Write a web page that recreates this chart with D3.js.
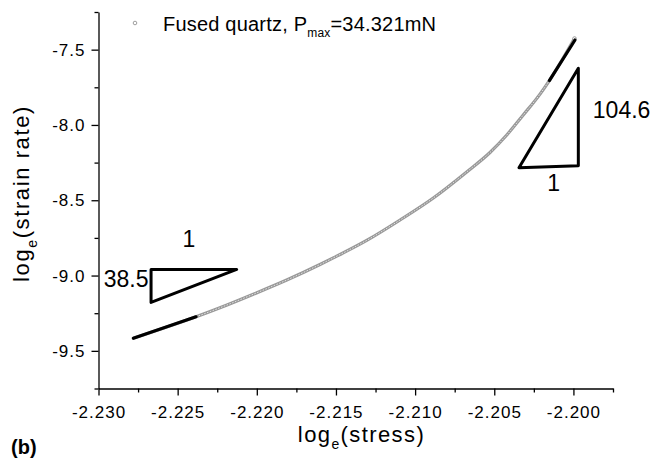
<!DOCTYPE html>
<html>
<head>
<meta charset="utf-8">
<script src="https://cdn.jsdelivr.net/npm/d3@7"></script>
<style>
  body { margin: 0; background: #fff; }
  text { font-family: Arial, "Liberation Sans", sans-serif; fill: #000; }
</style>
</head>
<body>
<svg id="chart" width="652" height="463"></svg>
<script>
// data (log_e stress vs log_e strain rate)
var stressLog = [-2.22780, -2.22582, -2.22384, -2.22233, -2.22022, -2.21811, -2.21601, -2.21517,
    -2.21306, -2.21095, -2.20885, -2.20674, -2.20527, -2.20421, -2.20317, -2.20211, -2.20152,
    -2.20072, -2.19993];
var strainRateLog = [-9.417, -9.347, -9.274, -9.214, -9.124, -9.030, -8.927, -8.883,
    -8.767, -8.631, -8.485, -8.312, -8.183, -8.067, -7.934, -7.795, -7.705,
    -7.569, -7.426];

// fitted straight segments at both ends
var lowFitX = [-2.22780, -2.22384], lowFitY = [-9.417, -9.274];
var highFitX = [-2.20152, -2.19990], highFitY = [-7.705, -7.436];

// slope triangles
var lowTriX = [-2.22668, -2.22127, -2.22668], lowTriY = [-8.959, -8.959, -9.178];
var highTriX = [-2.20344, -2.19969, -2.19969], highTriY = [-8.284, -7.624, -8.271];
var lowSlope = "38.5", highSlope = "104.6", runLabel = "1";

var xMajor = [-2.230, -2.225, -2.220, -2.215, -2.210, -2.205, -2.200];
var xMinor = [-2.2275, -2.2225, -2.2175, -2.2125, -2.2075, -2.2025, -2.1975];
var yMajor = [-9.5, -9.0, -8.5, -8.0, -7.5];
var yMinor = [-9.75, -9.25, -8.75, -8.25, -7.75, -7.25];

var svg = d3.select("#chart");

var x = d3.scaleLinear().domain([-2.230, -2.1975]).range([98.5, 613]);
var y = d3.scaleLinear().domain([-9.75, -7.25]).range([388.5, 12]);

// axes
var xAxis = svg.append("g").attr("transform", "translate(0,388.5)")
    .call(d3.axisBottom(x).tickValues(xMajor).tickSize(7).tickSizeOuter(0).tickPadding(6)
        .tickFormat(d3.format(".3f")));
svg.append("g").attr("transform", "translate(0,388.5)")
    .call(d3.axisBottom(x).tickValues(xMinor).tickSize(4).tickSizeOuter(0).tickFormat(""))
    .select(".domain").remove();

var yAxis = svg.append("g").attr("transform", "translate(98.5,0)")
    .call(d3.axisLeft(y).tickValues(yMajor).tickSize(7).tickSizeOuter(0).tickPadding(6)
        .tickFormat(d3.format(".1f")));
svg.append("g").attr("transform", "translate(98.5,0)")
    .call(d3.axisLeft(y).tickValues(yMinor).tickSize(4).tickSizeOuter(0).tickFormat(""))
    .select(".domain").remove();

svg.selectAll(".domain, .tick line").attr("stroke", "#000").attr("stroke-width", 1.3);
svg.selectAll(".tick text")
    .style("font-family", "Arial, 'Liberation Sans', sans-serif")
    .style("font-size", "17px")
    .style("letter-spacing", "1px")
    .text(function (d) { return d3.select(this).text().replace("\u2212", "-"); });
xAxis.selectAll(".tick text").attr("dy", "0.95em");

// data curve (chain of small hollow circles in the original)
var line = d3.line()
    .x(function (d, i) { return x(stressLog[i]); })
    .y(function (d, i) { return y(strainRateLog[i]); })
    .curve(d3.curveMonotoneX);

svg.append("path")
    .datum(stressLog)
    .attr("fill", "none")
    .attr("stroke", "#999")
    .attr("stroke-width", 3.2)
    .attr("d", line);
svg.append("path")
    .datum(stressLog)
    .attr("fill", "none")
    .attr("stroke", "#e2e2e2")
    .attr("stroke-width", 1)
    .attr("stroke-dasharray", "1.6 1.4")
    .attr("d", line);

svg.append("circle")
    .attr("cx", x(stressLog[stressLog.length - 1]))
    .attr("cy", y(strainRateLog[strainRateLog.length - 1]))
    .attr("r", 1.8)
    .attr("fill", "#fff")
    .attr("stroke", "#888")
    .attr("stroke-width", 0.8);

// fit segments
var seg = d3.line()
    .x(function (d) { return x(d[0]); })
    .y(function (d) { return y(d[1]); });

[[lowFitX, lowFitY], [highFitX, highFitY]].forEach(function (f) {
    svg.append("path")
        .datum(d3.zip(f[0], f[1]))
        .attr("fill", "none")
        .attr("stroke", "#000")
        .attr("stroke-width", 3.2)
        .attr("stroke-linecap", "round")
        .attr("d", seg);
});

[[lowTriX, lowTriY], [highTriX, highTriY]].forEach(function (t) {
    svg.append("path")
        .datum(d3.zip(t[0], t[1]))
        .attr("fill", "none")
        .attr("stroke", "#000")
        .attr("stroke-width", 3)
        .attr("stroke-linejoin", "round")
        .attr("d", function (d) { return seg(d) + "Z"; });
});

// slope labels
var ann = svg.append("g").style("font-size", "23px");
ann.append("text")
    .attr("x", (x(lowTriX[0]) + x(lowTriX[1])) / 2 - 5)
    .attr("y", y(lowTriY[0]) - 22.5)
    .attr("text-anchor", "middle")
    .text(runLabel);
ann.append("text")
    .attr("x", x(lowTriX[0]) - 2.5)
    .attr("y", y(lowTriY[0]) + 17.5)
    .attr("text-anchor", "end")
    .text(lowSlope);
ann.append("text")
    .attr("x", x(highTriX[1]) + 14.5)
    .attr("y", y(highTriY[1]) + 50)
    .text(highSlope);
ann.append("text")
    .attr("x", (x(highTriX[0]) + x(highTriX[2])) / 2 + 5)
    .attr("y", y(highTriY[0]) + 23.5)
    .attr("text-anchor", "middle")
    .text(runLabel);

// legend
svg.append("circle")
    .attr("cx", 135).attr("cy", 23).attr("r", 1.8)
    .attr("fill", "#fff").attr("stroke", "#888").attr("stroke-width", 0.8);
var leg = svg.append("text")
    .attr("x", 163).attr("y", 30.5)
    .style("font-size", "20px")
    .style("letter-spacing", "0.2px");
leg.append("tspan").text("Fused quartz, P");
leg.append("tspan").attr("dy", 6).style("font-size", "12px").text("max");
leg.append("tspan").attr("dy", -6).text("=34.321mN");

// axis titles
var xt = svg.append("text")
    .attr("x", 361.5).attr("y", 441.5)
    .attr("text-anchor", "middle")
    .style("font-size", "22px")
    .style("letter-spacing", "1.4px");
xt.append("tspan").text("log");
xt.append("tspan").attr("dy", 7.5).style("font-size", "14px").text("e");
xt.append("tspan").attr("dy", -7.5).text("(stress)");

var yt = svg.append("text")
    .attr("transform", "translate(29,193.5) rotate(-90)")
    .attr("text-anchor", "middle")
    .style("font-size", "22px")
    .style("letter-spacing", "1.6px");
yt.append("tspan").text("log");
yt.append("tspan").attr("dy", 7.5).style("font-size", "14px").text("e");
yt.append("tspan").attr("dy", -7.5).text("(strain rate)");

svg.append("text")
    .attr("x", 11).attr("y", 454)
    .style("font-size", "20px")
    .style("font-weight", "bold")
    .text("(b)");
</script>
</body>
</html>
